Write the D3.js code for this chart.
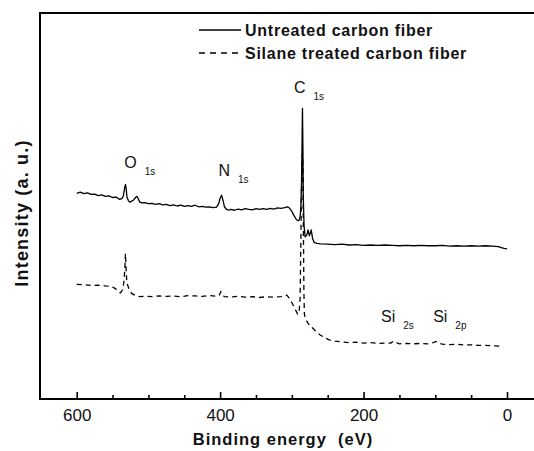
<!DOCTYPE html>
<html>
<head>
<meta charset="utf-8">
<script src="https://cdn.jsdelivr.net/npm/d3@7/dist/d3.min.js"></script>
<style>
  html, body { margin: 0; padding: 0; background: #fff; }
  svg { display: block; }
  text { font-family: "Liberation Sans", Arial, sans-serif; fill: #111; white-space: pre; }
</style>
</head>
<body>
<svg id="chart" width="534" height="451"></svg>
<script>
// XPS survey spectra: binding energy (eV) vs intensity (arbitrary units)
const untreatedEnergy = [600,595,590,585,580,575,570,565,560,555,550,545,540,537,535,533,532,531,530,528,526,524,521,518,516,514,512,509,505,500,495,490,485,480,475,470,465,460,455,450,445,440,435,430,425,420,415,410,405,402,400,398,396,394,391,388,385,380,375,370,365,360,355,350,345,340,335,330,325,320,315,310,306,303,300,297,294,292,290,288.5,287.5,286.5,285.8,285.2,284.6,284,283,281.5,279,277.5,275.5,273,271,268.5,265,260,250,240,230,220,210,200,190,180,170,160,150,140,130,120,110,100,90,80,70,60,50,40,30,20,12,8,4,0];
const untreatedIntensity = [53.3,53.6,53.2,53.4,53.0,53.1,52.7,52.9,52.5,52.6,52.2,52.3,51.7,51.9,52.6,54.8,55.6,54.5,52.4,51.4,51.0,51.2,51.5,52.2,52.5,51.8,51.0,50.8,50.9,50.6,50.7,50.4,50.6,50.3,50.4,50.1,50.3,50.0,50.2,49.9,50.1,49.9,50.2,49.8,49.9,49.7,49.8,49.6,49.7,50.6,52.0,52.8,51.5,49.8,49.1,48.9,49.1,48.9,49.2,49.0,49.3,49.1,49.0,49.3,49.1,49.3,49.1,49.4,49.2,49.5,49.4,49.6,49.8,49.4,48.6,47.5,46.6,46.2,46.3,47.2,49.5,56.0,66.0,75.3,66.0,52.0,45.0,42.0,42.5,43.8,42.3,43.8,41.5,40.5,40.3,40.2,40.1,40.0,40.1,39.9,40.0,39.8,39.9,39.8,39.9,39.8,39.7,39.8,39.7,39.8,39.7,39.7,39.8,39.6,39.7,39.6,39.7,39.6,39.7,39.6,39.5,39.2,39.0,38.9];

const silaneEnergy = [600,590,580,570,560,552,546,542,539,536,534,533,532,531,530,528,526,523,518,512,505,495,485,475,465,455,445,435,425,415,405,401,399,397,394,385,375,365,355,345,335,325,315,310,307,304,300,296,292,290,288.5,287.5,286.5,285.6,285,284.4,283.8,283.2,282.5,281,278,275,270,265,260,255,248,240,230,220,210,200,190,180,170,162,158,155,150,140,130,120,110,103,99,95,90,80,70,60,50,40,30,20,10];
const silaneIntensity = [29.7,29.6,29.4,29.5,29.3,29.2,28.6,27.8,27.5,28.3,30.5,33.5,37.7,33.0,30.0,29.0,28.0,27.3,26.8,26.5,26.6,26.5,26.7,26.6,26.7,26.5,26.8,26.7,26.6,26.8,26.6,27.0,27.8,27.0,26.5,26.4,26.6,26.4,26.5,26.3,26.5,26.4,26.5,26.8,26.9,26.2,25.0,23.5,22.0,22.3,26.0,40.0,55.0,62.8,63.5,55.0,42.0,28.0,22.0,20.8,19.8,19.0,18.2,17.2,16.5,16.0,15.3,15.0,14.8,14.6,14.7,14.5,14.6,14.4,14.5,14.5,15.0,14.7,14.3,14.4,14.3,14.4,14.3,14.6,14.9,14.4,14.2,14.1,14.2,14.0,14.0,13.9,13.9,13.8,13.7];

const seriesNames = ["Untreated carbon fiber", "Silane treated carbon fiber"];
const majorTicks = [600, 400, 200, 0];
const minorTicks = [550, 500, 450, 350, 300, 250, 150, 100, 50];

// Peak annotations: element, orbital, anchor energy and intensity
const peakLabels = ["O", "N", "C", "Si", "Si"];
const peakOrbitals = ["1s", "1s", "1s", "2s", "2p"];
const peakLabelEnergy = [533.8, 402.3, 297.1, 175.7, 103];
const peakLabelIntensity = [59.8, 57.85, 79.2, 20.0, 20.0];

const svg = d3.select("#chart");
const margin = { left: 40, top: 13, bottom: 399 };

const x = d3.scaleLinear().domain([600, 0]).range([76.7, 507]);
const y = d3.scaleLinear().domain([0, 100]).range([margin.bottom, margin.top]);

// Plot frame (extends past the right edge)
svg.append("rect")
  .attr("x", margin.left).attr("y", margin.top)
  .attr("width", 620).attr("height", margin.bottom - margin.top)
  .attr("fill", "none").attr("stroke", "#000").attr("stroke-width", 2);

// Bottom axis: inward ticks
const axisG = svg.append("g").attr("transform", `translate(0,${margin.bottom})`);
axisG.call(d3.axisBottom(x).tickValues(majorTicks).tickSize(-7).tickPadding(10).tickFormat(d3.format("d")))
  .call(g => g.select(".domain").remove())
  .call(g => g.selectAll(".tick line").attr("stroke", "#000").attr("stroke-width", 1.6))
  .call(g => g.selectAll(".tick text")
    .attr("font-family", "Liberation Sans, Arial, sans-serif")
    .attr("font-size", 17).attr("fill", "#222"));
svg.append("g").attr("transform", `translate(0,${margin.bottom})`)
  .call(d3.axisBottom(x).tickValues(minorTicks).tickSize(-4).tickFormat(""))
  .call(g => g.select(".domain").remove())
  .call(g => g.selectAll(".tick line").attr("stroke", "#000").attr("stroke-width", 1.6));

// Spectra
const line = d3.line().x(d => x(d[0])).y(d => y(d[1]));
const untreated = untreatedEnergy.map((e, i) => [e, untreatedIntensity[i]]);
const silane = silaneEnergy.map((e, i) => [e, silaneIntensity[i]]);

svg.append("path").datum(silane).attr("d", line)
  .attr("fill", "none").attr("stroke", "#000").attr("stroke-width", 1.3)
  .attr("stroke-dasharray", "5,4");
svg.append("path").datum(untreated).attr("d", line)
  .attr("fill", "none").attr("stroke", "#000").attr("stroke-width", 1.3)
  .attr("stroke-linejoin", "round");

// Peak labels
peakLabels.forEach((lab, i) => {
  const t = svg.append("text")
    .attr("x", x(peakLabelEnergy[i])).attr("y", y(peakLabelIntensity[i]))
    .attr("font-size", 16).attr("fill", "#222");
  t.append("tspan").text(lab);
  t.append("tspan").attr("dx", 8).attr("dy", 7).attr("font-size", 10).text(peakOrbitals[i]);
});

// Legend
const legend = svg.append("g");
const legendY = [30, 53];
seriesNames.forEach((name, i) => {
  legend.append("line")
    .attr("x1", 199).attr("x2", 241)
    .attr("y1", legendY[i]).attr("y2", legendY[i])
    .attr("stroke", "#000").attr("stroke-width", 1.3)
    .attr("stroke-dasharray", i === 1 ? "6,5" : null);
  legend.append("text")
    .attr("x", 245).attr("y", legendY[i] + 6)
    .attr("font-size", 16).attr("font-weight", "bold")
    .attr("letter-spacing", 0.75)
    .text(name);
});

// Axis titles
svg.append("text")
  .attr("x", 283).attr("y", 445)
  .attr("text-anchor", "middle")
  .attr("font-size", 16.5).attr("font-weight", "bold")
  .attr("letter-spacing", 1)
  .text("Binding energy  (eV)");

svg.append("text")
  .attr("transform", "translate(28,213) rotate(-90)")
  .attr("text-anchor", "middle")
  .attr("font-size", 18).attr("font-weight", "bold")
  .attr("letter-spacing", 1.2)
  .text("Intensity (a. u.)");
</script>
</body>
</html>
